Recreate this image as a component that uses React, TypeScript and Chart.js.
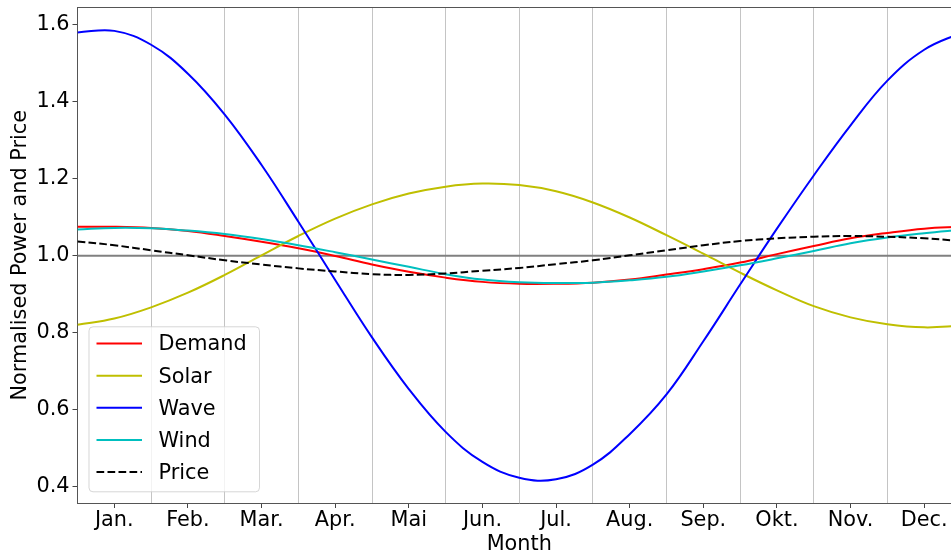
import React, { useEffect, useRef } from "react";
import { Chart, registerables } from "chart.js";

Chart.register(...registerables);

// Month tick labels (centres) and month boundaries (grid lines)
const MONTHS = ["Jan.", "Feb.", "Mar.", "Apr.", "Mai", "Jun.", "Jul.", "Aug.", "Sep.", "Okt.", "Nov.", "Dec."];
const MONTH_POS = [1, 2, 3, 4, 5, 6, 7, 8, 9, 10, 11, 12];
const MONTH_BOUNDS = [0.5, 1.5, 2.5, 3.5, 4.5, 5.5, 6.5, 7.5, 8.5, 9.5, 10.5, 11.5, 12.5];

// Sample positions (in months) where the curves were read
const X_SAMPLES = [0.5, 1, 1.5, 2, 2.5, 3, 3.5, 4, 4.5, 5, 5.5, 6, 6.5, 7, 7.5, 8, 8.5, 9, 9.5, 10, 10.5, 11, 11.5, 12, 12.5];

const DEMAND = [1.075, 1.075, 1.072, 1.064, 1.051, 1.036, 1.019, 0.999, 0.977, 0.958, 0.943, 0.932, 0.927, 0.927, 0.930, 0.938, 0.951, 0.965, 0.982, 1.004, 1.025, 1.045, 1.059, 1.070, 1.075];
const SOLAR = [0.821, 0.837, 0.866, 0.904, 0.950, 1.001, 1.051, 1.096, 1.133, 1.161, 1.179, 1.187, 1.183, 1.167, 1.138, 1.099, 1.053, 1.005, 0.956, 0.910, 0.869, 0.840, 0.822, 0.814, 0.818];
const WAVE = [1.579, 1.583, 1.547, 1.472, 1.366, 1.235, 1.088, 0.937, 0.788, 0.654, 0.543, 0.465, 0.424, 0.420, 0.458, 0.537, 0.640, 0.778, 0.925, 1.070, 1.208, 1.338, 1.454, 1.534, 1.578];
const WIND = [1.068, 1.072, 1.071, 1.065, 1.056, 1.043, 1.027, 1.009, 0.990, 0.971, 0.952, 0.938, 0.931, 0.929, 0.930, 0.936, 0.945, 0.959, 0.975, 0.993, 1.012, 1.032, 1.047, 1.058, 1.067];
const PRICE = [1.037, 1.027, 1.014, 1.001, 0.988, 0.977, 0.967, 0.959, 0.952, 0.950, 0.954, 0.961, 0.968, 0.978, 0.988, 1.001, 1.014, 1.027, 1.038, 1.045, 1.049, 1.051, 1.049, 1.045, 1.038];

const REF_LEVEL = 1.0;
const Y_TICKS = [0.4, 0.6, 0.8, 1.0, 1.2, 1.4, 1.6];
const Y_MIN = 0.3585;
const Y_MAX = 1.6436;

const SERIES = [
  { label: "Demand", values: DEMAND, color: "#ff0000", dash: [] as number[] },
  { label: "Solar", values: SOLAR, color: "#bfbf00", dash: [] as number[] },
  { label: "Wave", values: WAVE, color: "#0000ff", dash: [] as number[] },
  { label: "Wind", values: WIND, color: "#00bfbf", dash: [] as number[] },
  { label: "Price", values: PRICE, color: "#000000", dash: [7.7, 3.3] },
];

const FONT_FAMILY = "'DejaVu Sans', sans-serif";
const FONT_SIZE = 20.8;

export default function App() {
  const ref = useRef<HTMLCanvasElement>(null);

  useEffect(() => {
    const canvas = ref.current;
    if (!canvas) return;

    const legendPlugin = {
      id: "mplLegend",
      afterDatasetsDraw(chart: any) {
        const { ctx, chartArea } = chart;
        const boxLeft = chartArea.left + 11.5;
        const boxW = 170.5;
        const boxBottom = chartArea.bottom - 11.2;
        const boxH = 165;
        const boxTop = boxBottom - boxH;
        const r = 4;
        ctx.save();
        ctx.beginPath();
        ctx.moveTo(boxLeft + r, boxTop);
        ctx.lineTo(boxLeft + boxW - r, boxTop);
        ctx.arcTo(boxLeft + boxW, boxTop, boxLeft + boxW, boxTop + r, r);
        ctx.lineTo(boxLeft + boxW, boxBottom - r);
        ctx.arcTo(boxLeft + boxW, boxBottom, boxLeft + boxW - r, boxBottom, r);
        ctx.lineTo(boxLeft + r, boxBottom);
        ctx.arcTo(boxLeft, boxBottom, boxLeft, boxBottom - r, r);
        ctx.lineTo(boxLeft, boxTop + r);
        ctx.arcTo(boxLeft, boxTop, boxLeft + r, boxTop, r);
        ctx.closePath();
        ctx.fillStyle = "rgba(255,255,255,0.8)";
        ctx.fill();
        ctx.strokeStyle = "rgba(204,204,204,0.8)";
        ctx.lineWidth = 1;
        ctx.stroke();

        ctx.font = `${FONT_SIZE}px ${FONT_FAMILY}`;
        ctx.textBaseline = "middle";
        ctx.textAlign = "left";
        SERIES.forEach((s, i) => {
          const rowY = boxTop + 16.8 + i * 32.1;
          ctx.beginPath();
          ctx.setLineDash(s.dash);
          ctx.lineCap = "butt";
          ctx.strokeStyle = s.color;
          ctx.lineWidth = 2;
          ctx.moveTo(boxLeft + 7.5, rowY);
          ctx.lineTo(boxLeft + 53, rowY);
          ctx.stroke();
          ctx.setLineDash([]);
          ctx.fillStyle = "#000000";
          ctx.fillText(s.label, boxLeft + 69.5, rowY + 1.5);
        });
        ctx.restore();
      },
    };

    const datasets: any[] = SERIES.map((s, i) => ({
      label: s.label,
      data: X_SAMPLES.map((x, j) => ({ x, y: s.values[j] })),
      borderColor: s.color,
      backgroundColor: s.color,
      borderWidth: 2,
      borderDash: s.dash,
      pointRadius: 0,
      fill: false,
      tension: 0.4,
      order: SERIES.length - i,
      xAxisID: "x",
      yAxisID: "y",
    }));
    datasets.push({
      label: "ref",
      data: [
        { x: MONTH_BOUNDS[0], y: REF_LEVEL },
        { x: MONTH_BOUNDS[MONTH_BOUNDS.length - 1], y: REF_LEVEL },
      ],
      borderColor: "#808080",
      borderWidth: 2,
      pointRadius: 0,
      fill: false,
      tension: 0,
      order: 10,
      xAxisID: "x",
      yAxisID: "y",
    });

    const tickFont = { family: FONT_FAMILY, size: FONT_SIZE };
    const gridColor = "rgba(176,176,176,0.75)";

    const chart = new Chart(canvas, {
      type: "line",
      data: { datasets },
      options: {
        animation: false,
        responsive: false,
        devicePixelRatio: 1,
        layout: { padding: { top: 7.5, right: 14, left: 0, bottom: 0 } },
        elements: {
          point: { radius: 0 },
        },
        plugins: {
          legend: { display: false },
          tooltip: { enabled: false },
        },
        scales: {
          x: {
            type: "linear",
            position: "bottom",
            min: MONTH_BOUNDS[0],
            max: MONTH_BOUNDS[MONTH_BOUNDS.length - 1],
            afterBuildTicks: (scale: any) => {
              scale.ticks = MONTH_POS.map((v) => ({ value: v }));
            },
            afterFit: (scale: any) => {
              scale.height = 52;
              scale.paddingLeft = 0;
              scale.paddingRight = 0;
            },
            ticks: {
              autoSkip: false,
              maxRotation: 0,
              minRotation: 0,
              padding: 0,
              color: "#000000",
              font: tickFont,
              callback: (_v: any, index: number) => MONTHS[index],
            },
            grid: {
              drawOnChartArea: false,
              drawTicks: true,
              tickLength: 5,
              tickColor: "#444444",
            },
            border: { display: true, color: "#555555", width: 1 },
            title: {
              display: true,
              text: "Month",
              color: "#000000",
              font: tickFont,
              padding: { top: 0, bottom: -2 },
            },
          },
          xg: {
            type: "linear",
            position: "top",
            min: MONTH_BOUNDS[0],
            max: MONTH_BOUNDS[MONTH_BOUNDS.length - 1],
            afterBuildTicks: (scale: any) => {
              scale.ticks = MONTH_BOUNDS.map((v) => ({ value: v }));
            },
            afterFit: (scale: any) => {
              scale.height = 0;
              scale.paddingLeft = 0;
              scale.paddingRight = 0;
            },
            ticks: { display: false },
            grid: {
              drawOnChartArea: true,
              drawTicks: false,
              lineWidth: 1,
              color: (c: any) =>
                c.index === 0 || c.index === MONTH_BOUNDS.length - 1 ? "rgba(0,0,0,0)" : gridColor,
            },
            border: { display: true, color: "#555555", width: 1 },
          },
          y: {
            type: "linear",
            position: "left",
            min: Y_MIN,
            max: Y_MAX,
            afterBuildTicks: (scale: any) => {
              scale.ticks = Y_TICKS.map((v) => ({ value: v }));
            },
            afterFit: (scale: any) => {
              scale.width = 77.5;
              scale.paddingTop = 0;
              scale.paddingBottom = 0;
            },
            ticks: {
              padding: 3,
              color: "#000000",
              font: tickFont,
              callback: (v: any) => Number(v).toFixed(1),
            },
            grid: {
              drawOnChartArea: false,
              drawTicks: true,
              tickLength: 5,
              tickColor: "#444444",
            },
            border: { display: true, color: "#555555", width: 1 },
            title: {
              display: true,
              text: "Normalised Power and Price",
              color: "#000000",
              font: tickFont,
              padding: { top: 7.8, bottom: 0 },
            },
          },
        },
      },
      plugins: [legendPlugin],
    } as any);

    return () => {
      chart.destroy();
    };
  }, []);

  return (
    <div
      style={{
        position: "fixed",
        left: 0,
        top: 0,
        width: 951,
        height: 555,
        overflow: "hidden",
        background: "#ffffff",
      }}
    >
      <canvas ref={ref} width={975} height={555} style={{ display: "block" }} />
    </div>
  );
}
